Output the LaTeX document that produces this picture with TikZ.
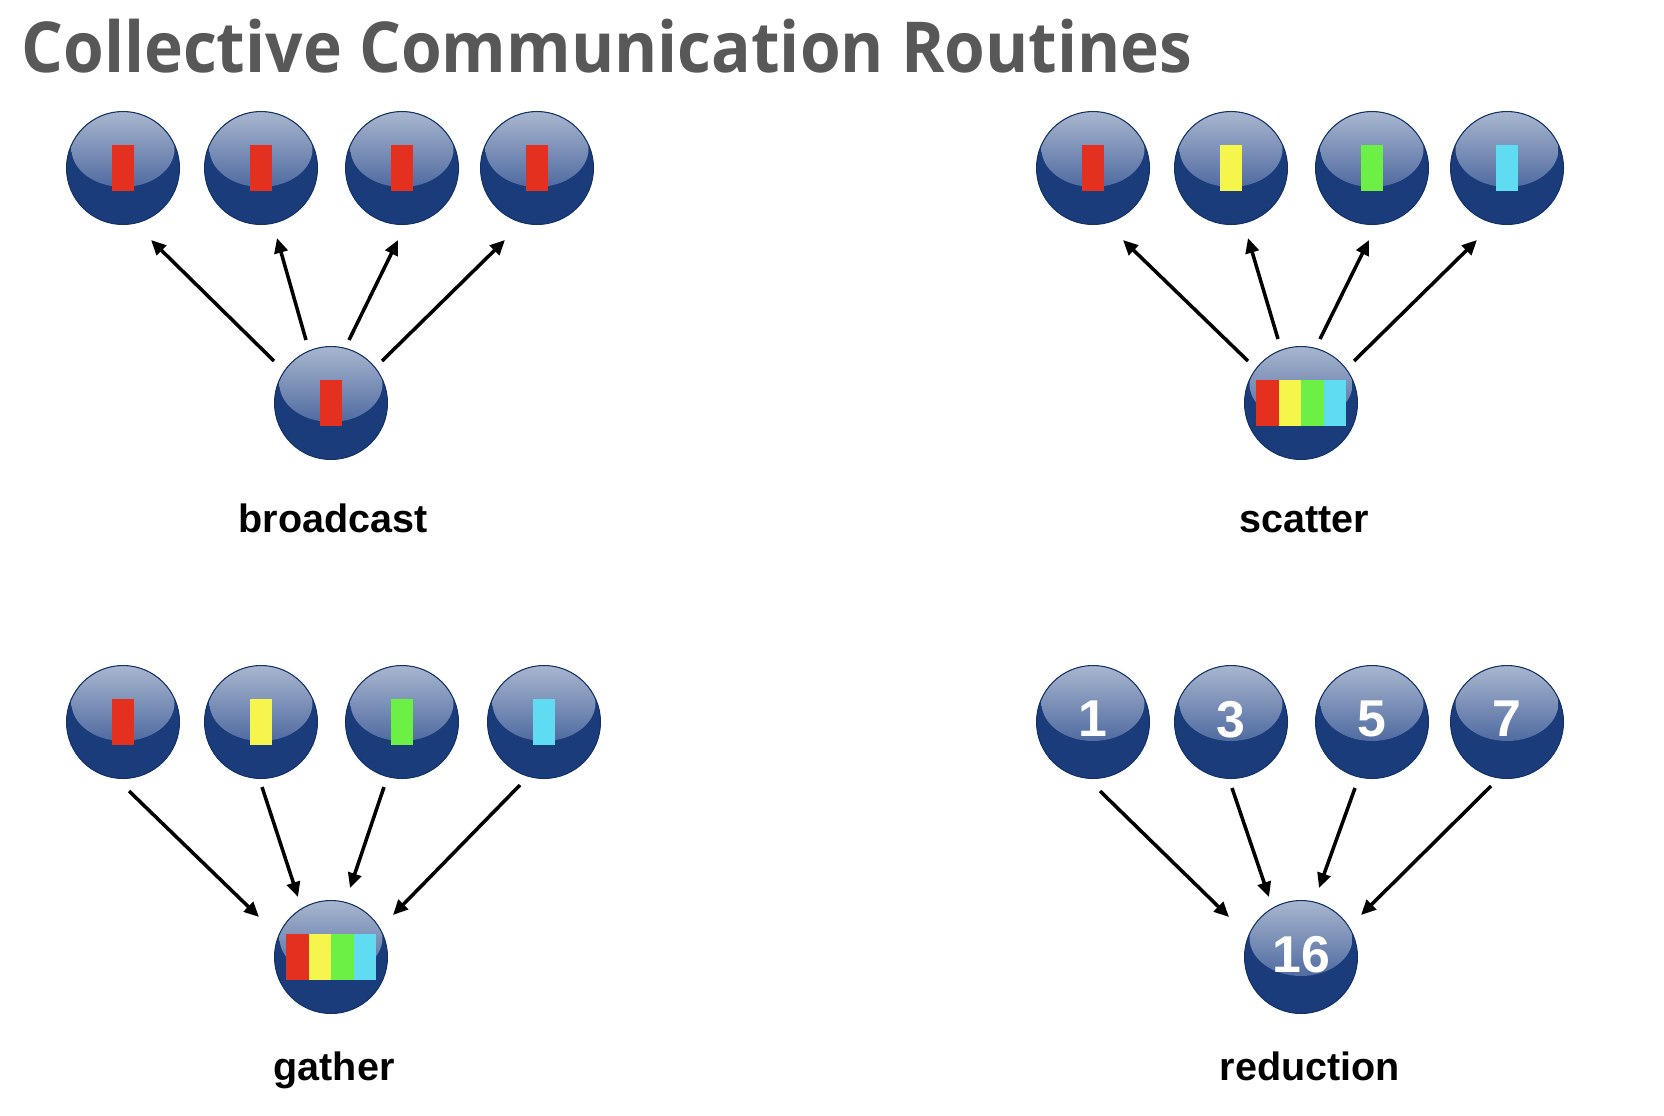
\documentclass[tikz,border=0pt]{standalone}
\usepackage{fontspec}
\setmainfont{Liberation Sans}
\newfontfamily\titlefont{Open Sans}
\usetikzlibrary{calc,arrows.meta}
\definecolor{ballblue}{HTML}{1A3C7A}
\definecolor{balledge}{HTML}{143268}
\definecolor{hltop}{HTML}{A9B7CF}
\definecolor{hlmid}{HTML}{5E7AA7}
\definecolor{hlbot}{HTML}{24458A}
\definecolor{cred}{HTML}{E3301F}
\definecolor{cyel}{HTML}{F5F54C}
\definecolor{cgrn}{HTML}{6CF046}
\definecolor{ccya}{HTML}{60DCF2}
\definecolor{titlegray}{HTML}{585858}
\newcommand{\ballhl}{\shade[top color=hltop, middle color=hlmid, bottom color=hlbot]
  ($(path picture bounding box.center)+(0,-19)$) ellipse [x radius=1.03cm, y radius=0.76cm];}
\newcommand{\quadbars}{%
  \fill[cred] ($(path picture bounding box.center)+(-45,-23)$) rectangle +(22.5,46);
  \fill[cyel] ($(path picture bounding box.center)+(-22.5,-23)$) rectangle +(22.5,46);
  \fill[cgrn] ($(path picture bounding box.center)+(0,-23)$) rectangle +(22.5,46);
  \fill[ccya] ($(path picture bounding box.center)+(22.5,-23)$) rectangle +(22.5,46);}
\tikzset{
  x=0.02cm, y=-0.02cm,
  ball/.style={circle, minimum size=2.26cm, inner sep=0pt, fill=ballblue,
    draw=balledge, line width=0.6pt, path picture={\ballhl}},
  barball/.style={ball, path picture={\ballhl
    \fill[#1] ($(path picture bounding box.center)+(-11,-23)$) rectangle +(22,46);}},
  quadball/.style={ball, path picture={\ballhl \quadbars}},
  numball/.style={ball, text=white, text depth=0.12cm, font=\fontsize{29.5}{32}\selectfont\bfseries},
  lab/.style={anchor=base, font=\fontsize{22.5}{25}\selectfont\bfseries, text=black},
  arr/.style={line width=2pt, -{Triangle[length=8.5pt, width=7.6pt]}},
}
\begin{document}
\begin{tikzpicture}
\useasboundingbox (0,0) rectangle (1664,1116);
\node[anchor=base west, inner sep=0pt, text=titlegray, font=\titlefont\fontsize{40}{44}\selectfont\bfseries] (title) at (21,72) {\scalebox{0.937}[1]{Collective Communication Routines}};

% broadcast
\node[barball=cred] (bt1) at (123,168) {};
\node[barball=cred] (bt2) at (261,168) {};
\node[barball=cred] (bt3) at (402,168) {};
\node[barball=cred] (bt4) at (537,168) {};
\node[barball=cred] (bb) at (331,403) {};
\node[lab] (bl) at (333,532) {broadcast};
\draw[arr] ($(bb)+(-57,-42)$) -- ($(bt1)+(28,72)$);
\draw[arr] ($(bb)+(-25,-63)$) -- ($(bt2)+(16,70)$);
\draw[arr] ($(bb)+(18,-63)$) -- ($(bt3)+(-4,72)$);
\draw[arr] ($(bb)+(51,-42)$) -- ($(bt4)+(-32,72)$);

% scatter
\node[barball=cred] (st1) at (1093,168) {};
\node[barball=cyel] (st2) at (1231,168) {};
\node[barball=cgrn] (st3) at (1372,168) {};
\node[barball=ccya] (st4) at (1507,168) {};
\node[quadball] (sb) at (1301,403) {};
\node[lab] (sl) at (1304,532) {scatter};
\draw[arr] ($(sb)+(-53,-42)$) -- ($(st1)+(30,72)$);
\draw[arr] ($(sb)+(-23,-64)$) -- ($(st2)+(17,70)$);
\draw[arr] ($(sb)+(19,-64)$) -- ($(st3)+(-3,72)$);
\draw[arr] ($(sb)+(53,-42)$) -- ($(st4)+(-30,72)$);

% gather
\node[barball=cred] (gt1) at (123,722) {};
\node[barball=cyel] (gt2) at (261,722) {};
\node[barball=cgrn] (gt3) at (402,722) {};
\node[barball=ccya] (gt4) at (544,722) {};
\node[quadball] (gb) at (331,957) {};
\node[lab] (gl) at (334,1080) {gather};
\draw[arr] ($(gt1)+(6,69)$) -- ($(gb)+(-72,-40)$);
\draw[arr] ($(gt2)+(1,65)$) -- ($(gb)+(-33,-60)$);
\draw[arr] ($(gt3)+(-18,65)$) -- ($(gb)+(19,-69)$);
\draw[arr] ($(gt4)+(-24,63)$) -- ($(gb)+(62,-42)$);

% reduction
\node[numball] (rt1) at (1093,722) {1};
\node[numball] (rt2) at (1231,722) {3};
\node[numball] (rt3) at (1372,722) {5};
\node[numball] (rt4) at (1507,722) {7};
\node[numball] (rb) at (1301,957) {16};
\node[lab] (rl) at (1310,1080) {reduction};
\draw[arr] ($(rt1)+(7,69)$) -- ($(rb)+(-72,-40)$);
\draw[arr] ($(rt2)+(1,66)$) -- ($(rb)+(-32,-60)$);
\draw[arr] ($(rt3)+(-17,66)$) -- ($(rb)+(18,-69)$);
\draw[arr] ($(rt4)+(-16,64)$) -- ($(rb)+(60,-42)$);
\end{tikzpicture}
\end{document}
